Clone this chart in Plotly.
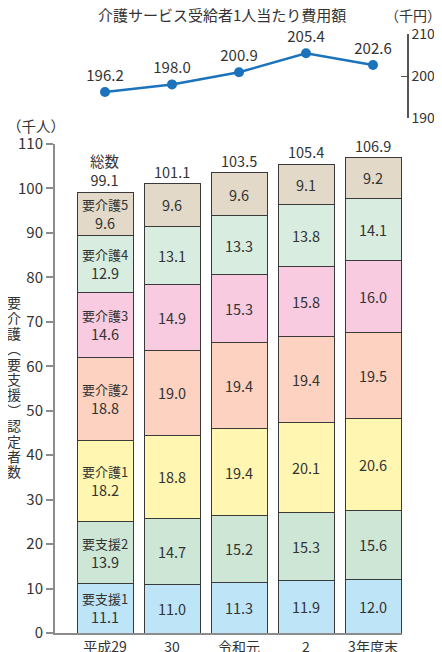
import plotly.graph_objects as go

# ---- data ----
categories = ["平成29", "30", "令和元", "2", "3年度末"]
levels = ["要支援1", "要支援2", "要介護1", "要介護2", "要介護3", "要介護4", "要介護5"]
shien1 = [11.1, 11.0, 11.3, 11.9, 12.0]
shien2 = [13.9, 14.7, 15.2, 15.3, 15.6]
kaigo1 = [18.2, 18.8, 19.4, 20.1, 20.6]
kaigo2 = [18.8, 19.0, 19.4, 19.4, 19.5]
kaigo3 = [14.6, 14.9, 15.3, 15.8, 16.0]
kaigo4 = [12.9, 13.1, 13.3, 13.8, 14.1]
kaigo5 = [9.6, 9.6, 9.6, 9.1, 9.2]
totals = [99.1, 101.1, 103.5, 105.4, 106.9]
cost = [196.2, 198.0, 200.9, 205.4, 202.6]
series = [shien1, shien2, kaigo1, kaigo2, kaigo3, kaigo4, kaigo5]
colors = ["#bde4f7", "#cde6d6", "#fff7b1", "#fdd2c0", "#f8cbe0", "#d8ecdf", "#e2d9c8"]

W, H = 442, 652
OFF = 8  # page body margin in the viewer: figure origin sits at page (8, 8)
PLOT_L = 55 - OFF
PLOT_B = 633 - OFF
ML, MR, MT = PLOT_L, 2, 0
MB = H - PLOT_B
PW = W - ML - MR
PH = H - MT - MB


def px_x(px):
    return (px - OFF - ML) / PW


def px_y(py):
    return (PLOT_B - (py - OFF)) / PH


FONT = "Noto Sans CJK JP"
TXT = "#333333"
AX = "#8c8c8c"

xs = list(range(len(categories)))
fig = go.Figure()

for name, vals, col in zip(levels, series, colors):
    texts = []
    for i, v in enumerate(vals):
        if i == 0:
            texts.append(f"<span style='font-size:13px'>{name}</span><br>{v:.1f}")
        else:
            texts.append(f"{v:.1f}")
    fig.add_trace(go.Bar(
        x=xs, y=vals, name=name, marker=dict(color=col, line=dict(color="#3a3a3a", width=1)),
        width=56 / 67, text=texts, textposition="inside", insidetextanchor="middle",
        textangle=0, constraintext="none", texttemplate="%{text}",
        insidetextfont=dict(family=FONT, size=14.5, color=TXT), showlegend=False,
        xaxis="x", yaxis="y"))

fig.add_trace(go.Scatter(
    x=xs, y=cost, mode="lines+markers+text", text=[f"{c:.1f}" for c in cost],
    textposition="top center", textfont=dict(family=FONT, size=15, color=TXT),
    line=dict(color="#1b73bb", width=2.5), marker=dict(color="#1b73bb", size=10),
    xaxis="x2", yaxis="y2", showlegend=False, cliponaxis=False))

xr = [-(105 - 55) / 67, (402 - 105) / 67]
xdom = [0, px_x(402)]


def ann(px, py, text, size):
    return dict(x=px_x(px), y=px_y(py), xref="paper", yref="paper", text=text,
                showarrow=False, xanchor="center", yanchor="middle",
                font=dict(family=FONT, size=size, color=TXT))


annotations = []
for i, t in enumerate(totals):
    label = f"総数<br>{t:.1f}" if i == 0 else f"{t:.1f}"
    annotations.append(dict(x=xs[i], y=t, xref="x", yref="y", text=label, showarrow=False,
                            xanchor="center", yanchor="bottom", yshift=0,
                            font=dict(family=FONT, size=14.5, color=TXT)))

annotations.append(ann(222, 15, "介護サービス受給者1人当たり費用額", 15))
annotations.append(ann(413, 15, "（千円）", 14))
annotations.append(ann(36, 126, "（千人）", 14.5))

vtitle = "要介護︵要支援︶認定者数"
for k, ch in enumerate(vtitle):
    annotations.append(ann(14, 302 + k * 15.4, ch, 14))

fig.update_layout(
    width=W, height=H, margin=dict(l=ML, r=MR, t=MT, b=MB, autoexpand=False),
    paper_bgcolor="white", plot_bgcolor="white", barmode="stack",
    font=dict(family=FONT, color=TXT),
    xaxis=dict(domain=xdom, range=xr, tickvals=xs, ticktext=categories, showline=True,
               linecolor=AX, linewidth=2, ticks="", showgrid=False, zeroline=False,
               automargin=False, tickfont=dict(family=FONT, size=14, color=TXT)),
    yaxis=dict(domain=[0, px_y(144)], range=[0, 110], tickvals=list(range(0, 111, 10)),
               showline=True, linecolor=AX, linewidth=2, ticks="outside", ticklen=7,
               tickcolor=AX, tickwidth=1.5, showgrid=False, zeroline=False,
               automargin=False, tickfont=dict(family=FONT, size=15, color=TXT)),
    xaxis2=dict(domain=xdom, range=xr, anchor="y2", visible=False, automargin=False),
    yaxis2=dict(domain=[px_y(118), px_y(34)], range=[190, 210], anchor="free",
                position=px_x(408), side="right", tickvals=[190, 200, 210],
                showline=True, linecolor="#555555", linewidth=1.5, ticks="inside",
                ticklen=6, tickcolor="#555555", showgrid=False, zeroline=False,
                automargin=False, tickfont=dict(family=FONT, size=14, color=TXT)),
    annotations=annotations,
)

fig.write_html("out.html")
